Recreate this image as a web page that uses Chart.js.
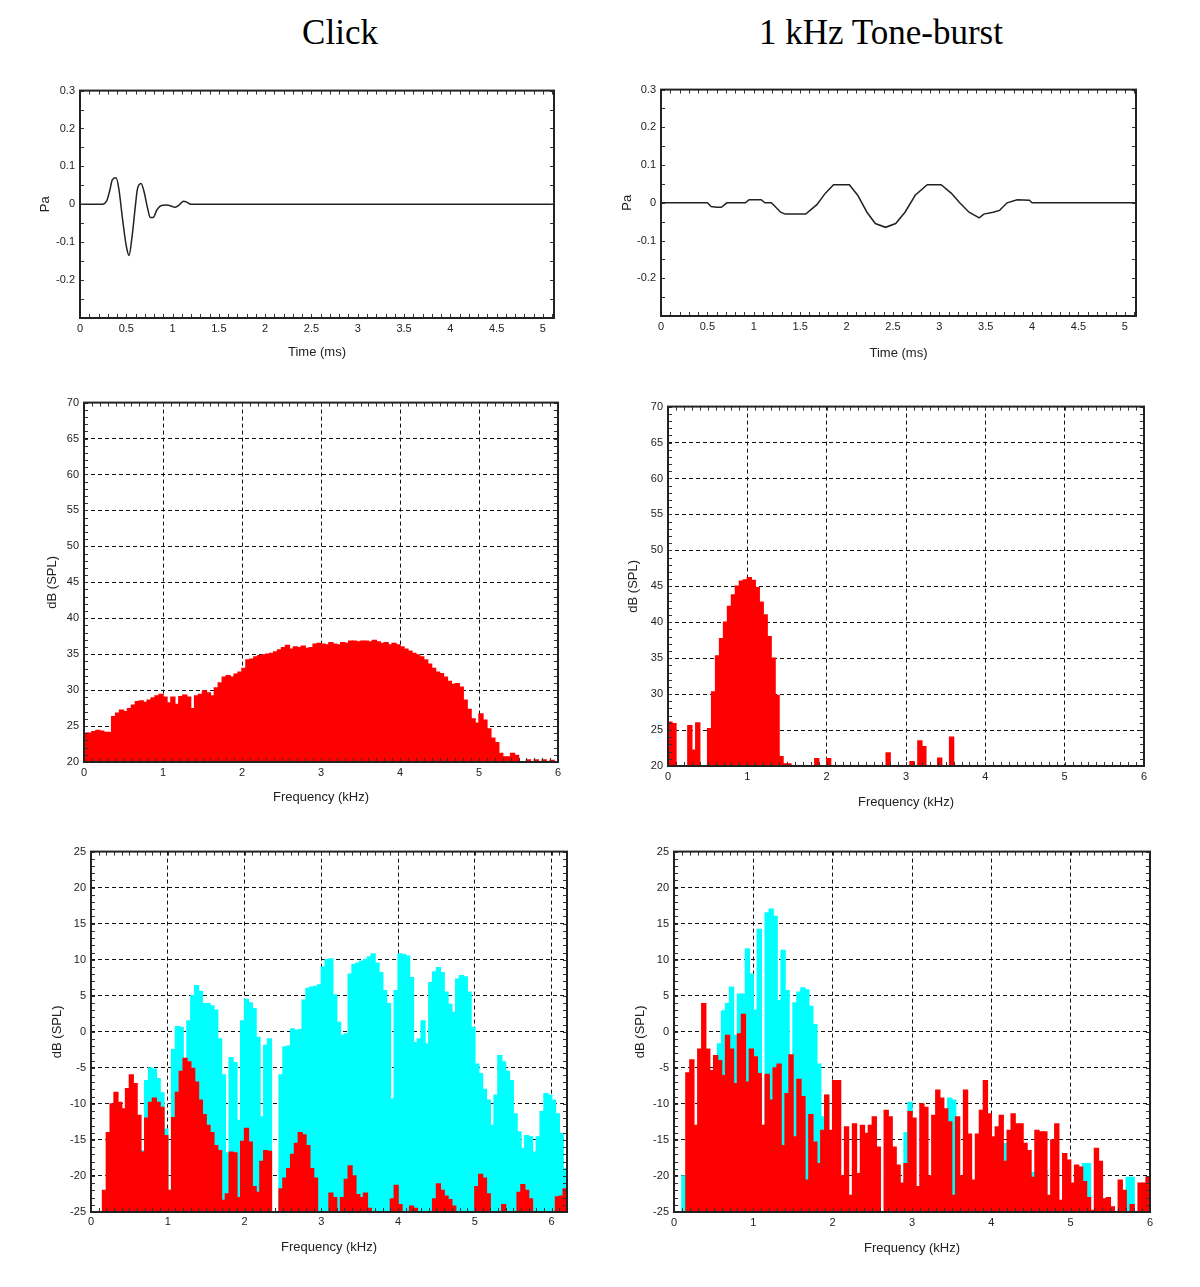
<!DOCTYPE html>
<html>
<head>
<meta charset="utf-8">
<script src="https://cdn.jsdelivr.net/npm/chart.js@4.4.1/dist/chart.umd.min.js"></script>
<style>
  body { margin: 0; background: #fff; width: 1200px; height: 1287px; position: relative; overflow: hidden; }
  .ttl { position: absolute; top: 12px; font-family: "Liberation Serif", "Times New Roman", serif; font-size: 35px; line-height: 42px; transform: translateX(-50%); white-space: nowrap; color: #000; }
  canvas { position: absolute; }
</style>
</head>
<body>
<div class="ttl" style="left:340px">Click</div>
<div class="ttl" style="left:881px">1 kHz Tone-burst</div>
<canvas id="clickWave"></canvas>
<canvas id="toneWave"></canvas>
<canvas id="clickSpec"></canvas>
<canvas id="toneSpec"></canvas>
<canvas id="clickResp"></canvas>
<canvas id="toneResp"></canvas>
<script>
// --- tick labels ---
const timeTicks = [0, 0.5, 1, 1.5, 2, 2.5, 3, 3.5, 4, 4.5, 5];
const paTicks = [-0.2, -0.1, 0, 0.1, 0.2, 0.3];
const freqTicks = [0, 1, 2, 3, 4, 5, 6];
const splTicks = [20, 25, 30, 35, 40, 45, 50, 55, 60, 65, 70];
const respTicks = [-25, -20, -15, -10, -5, 0, 5, 10, 15, 20, 25];

// --- waveforms (time in ms, pressure in Pa) ---
const clickT  = [0, 0.24, 0.29, 0.32, 0.35, 0.39, 0.42, 0.46, 0.5, 0.53, 0.56, 0.6, 0.62, 0.66, 0.69, 0.73, 0.76, 0.79, 0.83, 0.88, 0.93, 0.99, 1.02, 1.07, 1.12, 1.15, 1.2, 5.12];
const clickPa = [0, 0, 0.01, 0.035, 0.065, 0.07, 0.04, -0.04, -0.11, -0.135, -0.09, 0, 0.04, 0.055, 0.035, -0.01, -0.035, -0.035, -0.015, -0.003, -0.002, -0.005, -0.008, -0.002, 0.008, 0.006, 0, 0];

const toneT  = [0, 0.5, 0.54, 0.6, 0.65, 0.71, 0.91, 0.95, 1.08, 1.12, 1.19, 1.29, 1.34, 1.56, 1.68, 1.77, 1.86, 2.03, 2.12, 2.22, 2.31, 2.42, 2.53, 2.63, 2.74, 2.87, 3.02, 3.13, 3.22, 3.32, 3.43, 3.48, 3.58, 3.65, 3.73, 3.84, 3.97, 4.0, 5.12];
const tonePa = [0, 0, -0.01, -0.012, -0.012, 0, 0, 0.008, 0.008, 0, 0, -0.025, -0.03, -0.03, -0.005, 0.025, 0.048, 0.048, 0.02, -0.025, -0.055, -0.065, -0.055, -0.025, 0.02, 0.048, 0.048, 0.025, 0, -0.025, -0.04, -0.03, -0.025, -0.02, 0, 0.008, 0.007, 0, 0];

// --- spectra, 0.05 kHz bins ---
const freq120 = Array.from({length: 120}, (_, i) => +(0.025 + i * 0.05).toFixed(3));
const freq124 = Array.from({length: 124}, (_, i) => +(0.025 + i * 0.05).toFixed(3));

const clickSpl = [
  24.0,24.0,24.2,24.4,24.3,24.1,24.1,26.3,26.8,27.2,
  27.0,27.4,27.9,28.4,28.5,28.3,28.6,28.9,29.2,29.4,
  29.0,28.2,29.0,28.0,29.1,29.3,29.0,27.4,29.2,29.4,
  29.9,29.6,29.2,30.3,31.0,31.8,32.0,31.8,32.2,32.5,
  33.0,34.2,34.3,34.6,34.8,34.9,35.0,35.1,35.3,35.6,
  35.9,36.2,35.7,36.0,35.9,36.1,35.8,35.9,36.4,36.5,
  36.4,36.3,36.6,36.4,36.3,36.6,36.5,36.8,36.8,36.7,
  36.8,36.8,36.7,36.9,36.7,36.5,36.6,36.3,36.5,36.3,
  36.0,35.7,35.4,35.1,34.9,34.6,34.2,33.6,33.0,32.5,
  32.3,31.8,31.2,30.8,30.9,30.4,28.6,27.3,26.0,25.4,
  26.7,25.8,24.6,23.3,22.7,21.2,20.7,20.7,21.2,20.9,
  20.0,20.0,20.3,20.0,20.3,20.0,20.3,20.0,20.2,20.0
];

const toneSpl = [
  26.1,25.9,20,20,20,25.6,22.2,26.0,20,20,
  25.2,30.3,35.3,37.7,40.0,42.2,43.8,45.0,45.7,45.9,
  46.2,45.8,44.8,42.8,41.0,38.0,35.0,29.8,21.3,20.3,
  20.3,20,20,20,20,20,20,21.0,20,20,
  21.0,20,20,20,20,20,20,20,20,20,
  20,20,20,20,20,21.8,20,20,20,20,
  20,20.6,20,23.5,22.7,20,20,20,21.1,20,
  20,24.0,20,20,20,20,20,20,20,20,
  20,20,20,20,20,20,20,20,20,20,
  20,20,20,20,20,20,20,20,20,20,
  20,20,20,20,20,20,20,20,20,20,
  20,20,20,20,20,20,20,20,20,20
];

const clickRed = [
  -25,-25,-25,-22,-14,-10,-8.4,-9.8,-10.7,-7.9,
  -6,-7.2,-11.6,-16.7,-12,-9.8,-9.2,-9.8,-10.5,-14.4,
  -22,-11.9,-8.4,-5.5,-3.7,-4.2,-5.1,-7,-9.5,-11.5,
  -13,-14,-15.8,-16.5,-23.4,-22.5,-16.7,-16.8,-23,-15.2,
  -13.4,-15.3,-21.5,-22.3,-18,-16.5,-16.6,-25,-25,-21.8,
  -20.3,-19,-17,-15.5,-14,-14.3,-15.8,-19,-20.3,-25,
  -25,-25,-22.4,-23,-25,-23,-20.5,-18.6,-20,-22.6,
  -23,-22.4,-24.5,-25,-25,-25,-25,-25,-23.2,-21.3,
  -24,-25,-25,-24.2,-24.5,-25,-25,-25,-25,-23.2,
  -21.1,-22,-22.8,-23.3,-24.2,-25,-25,-25,-25,-25,
  -21.5,-19.8,-20.3,-22.5,-25,-25,-25,-24,-25,-25,
  -25,-22.3,-21.2,-22,-23.2,-25,-25,-25,-25,-25,
  -25,-22.9,-22.8,-21.8
];

const clickCyan = [
  -25,-25,-25,-25,-25,-25,-25,-25,-25,-25,
  -25,-25,-25,-16.5,-6.8,-5,-5.2,-6.5,-8.5,-13.5,
  -22,-2.5,0.7,0.6,-3.7,1.5,5.0,6.4,5.6,3.9,
  3.9,3.6,3.0,-1.0,-6.0,-16.8,-3.6,-4.3,-12.3,1.5,
  4.5,4.0,3.2,-0.8,-11.8,-1.9,-1.0,-25,-25,-6,
  -2.1,-2,0.4,0.2,0.3,4.4,6.0,6.2,6.3,6.5,
  9,10,10.1,5.1,1.3,-0.5,-0.3,8,9.3,9.5,
  9.8,10.0,10.4,10.8,9.5,8.2,5.7,3.9,-9.3,5.7,
  10.8,10.7,10.5,7.5,-1.5,-1,1.5,-1.7,6.8,8.3,
  8.9,8.2,5.5,3.8,2.7,7.3,7.8,7.6,5.5,0.6,
  -4.5,-5.8,-8,-9.5,-13,-8.8,-3.3,-4.2,-5.5,-6.8,
  -11.4,-13.9,-16.2,-14.4,-14.6,-16.7,-14.6,-11.1,-8.6,-8.8,
  -9.5,-11.4,-14.1,-19
];

const toneRed = [
  -25,-25,-25,-5.7,-3.9,-13,-2.4,3.9,-2.4,-5.4,
  -3.3,-4.0,-6.1,-0.5,-2.4,-7.2,-0.3,2.4,-7.0,-2.4,
  -3.5,-5.8,-13.0,-5.9,-9.5,-5.0,-4.5,-15.8,-8.6,-3.2,
  -14.6,-6.6,-9.0,-20.6,-11.5,-15.3,-18.3,-13.7,-8.8,-13.7,
  -6.8,-6.8,-20.0,-13.2,-22.7,-12.8,-19.7,-13.0,-14.1,-13.0,
  -11.8,-16.0,-25,-10.9,-11.8,-16.0,-18.5,-21.0,-18.3,-11.1,
  -12.0,-21.5,-10.0,-10.5,-20.0,-11.6,-8.1,-9.2,-10.7,-12.5,
  -22.7,-11.8,-20.0,-8.1,-14.2,-20.6,-14.2,-10.9,-6.8,-11.4,
  -14.6,-13.2,-11.6,-18.0,-13.7,-11.4,-12.8,-12.8,-15.5,-16.5,
  -20.2,-13.7,-13.9,-13.9,-22.7,-15.0,-12.8,-23.4,-16.9,-17.8,
  -21.0,-18.5,-18.8,-20.8,-23.0,-24.8,-16.2,-18.0,-23.2,-23.0,
  -24.3,-25,-20.6,-22.0,-25,-24.0,-25,-21.0,-21.0,-20.2
];

const toneCyan = [
  -25,-25,-20,-25,-25,-25,-25,-25,-25,-25,
  -3.3,-1.7,2.9,3.9,6.2,-0.5,5.2,5.2,11.5,8.0,
  3.0,14.2,-13.0,16.5,17.0,16.0,4.3,11.3,5.7,-12.0,
  4.0,5.5,6.1,5.8,3.5,1.0,-4.5,-11.8,-8.8,-25,
  -25,-25,-25,-25,-25,-25,-25,-25,-25,-25,
  -25,-25,-25,-25,-25,-25,-25,-25,-14.0,-9.8,
  -25,-25,-25,-25,-25,-25,-25,-25,-25,-9.2,
  -9.5,-25,-25,-25,-25,-25,-25,-25,-25,-25,
  -25,-25,-25,-15.5,-25,-25,-25,-25,-25,-25,
  -19.5,-25,-25,-19.3,-25,-25,-25,-25,-25,-25,
  -25,-25,-25,-18.3,-18.3,-25,-25,-25,-25,-25,
  -25,-25,-25,-25,-20.2,-20.2,-25,-25,-25,-25
];

const tickFont = {family: '"Liberation Sans", Arial, sans-serif', size: 11};
const titleFont = {family: '"Liberation Sans", Arial, sans-serif', size: 13};
const fmt = v => String(Math.round(v * 100) / 100);

// frame + small inward ticks on all four sides
const frameTicks = {
  id: 'frameTicks',
  afterDatasetsDraw(chart, args, o) {
    const {ctx, chartArea: a} = chart;
    const x = chart.scales.x, y = chart.scales.y;
    ctx.save();
    ctx.strokeStyle = '#333';
    ctx.lineWidth = 1;
    ctx.beginPath();
    const nx = Math.round((x.max - x.min) / o.xMinor + 1e-6);
    for (let i = 0; i <= nx; i++) {
      const px = Math.round(x.getPixelForValue(x.min + i * o.xMinor)) + 0.5;
      ctx.moveTo(px, a.top); ctx.lineTo(px, a.top + 4);
      ctx.moveTo(px, a.bottom); ctx.lineTo(px, a.bottom - 4);
    }
    const ny = Math.round((y.max - y.min) / o.yMinor + 1e-6);
    for (let i = 0; i <= ny; i++) {
      const py = Math.round(y.getPixelForValue(y.min + i * o.yMinor)) + 0.5;
      ctx.moveTo(a.left, py); ctx.lineTo(a.left + 4, py);
      ctx.moveTo(a.right, py); ctx.lineTo(a.right - 4, py);
    }
    ctx.stroke();
    ctx.lineWidth = 2;
    ctx.strokeStyle = '#222';
    ctx.strokeRect(a.left, a.top, a.width, a.height);
    ctx.restore();
  }
};

function makePanel(id, box, o) {
  const cLeft = box.yt - 10, cTop = box.t - 10, cBottom = box.xt + 10;
  const yAxisW = box.l - cLeft;
  const xAxisH = cBottom - box.b;
  const cv = document.getElementById(id);
  cv.width = box.r + 14 - cLeft;
  cv.height = cBottom - cTop;
  cv.style.left = cLeft + 'px';
  cv.style.top = cTop + 'px';
  new Chart(cv, {
    type: o.type,
    data: {datasets: o.datasets},
    options: {
      responsive: false,
      animation: false,
      events: [],
      layout: {padding: {top: 10, right: 14, left: 0, bottom: 0}},
      plugins: {
        legend: {display: false},
        tooltip: {enabled: false},
        frameTicks: {xMinor: o.xMinor, yMinor: o.yMinor}
      },
      scales: {
        x: {
          type: 'linear', min: o.xMin, max: o.xMax, offset: false,
          afterFit: s => { s.height = xAxisH; },
          afterBuildTicks: s => { s.ticks = o.xTicks.map(v => ({value: v})); },
          grid: {display: o.grid, offset: false, drawTicks: false, color: '#111', lineWidth: 1},
          border: {display: false, dash: [4, 3]},
          ticks: {autoSkip: false, maxRotation: 0, padding: box.xl - box.b - 6.6, font: tickFont, color: '#222', callback: fmt},
          title: {display: true, text: o.xTitle, font: titleFont, color: '#222', padding: {top: 0, bottom: 2.2}}
        },
        y: {
          type: 'linear', min: o.yMin, max: o.yMax,
          afterFit: s => { s.width = yAxisW; },
          afterBuildTicks: s => { s.ticks = o.yTicks.map(v => ({value: v})); },
          grid: {display: o.grid, drawTicks: false, color: '#111', lineWidth: 1},
          border: {display: false, dash: [4, 3]},
          ticks: {padding: 5, font: tickFont, color: '#222', callback: fmt},
          title: {display: true, text: o.yTitle, font: titleFont, color: '#222', padding: {top: 2.2, bottom: 0}}
        }
      }
    },
    plugins: [frameTicks]
  });
}

function lineSet(t, p, smooth) {
  return {
    data: t.map((v, i) => ({x: v, y: p[i]})),
    borderColor: '#222', borderWidth: 1.5, pointRadius: 0,
    cubicInterpolationMode: smooth ? 'monotone' : 'default',
    tension: smooth ? 0.4 : 0, fill: false
  };
}

function barSet(freqs, vals, base, color) {
  return {
    data: freqs.map((f, i) => ({x: f, y: [base, vals[i]]})),
    backgroundColor: color, borderWidth: 0, inflateAmount: 0.7,
    barPercentage: 1, categoryPercentage: 1, grouped: false
  };
}

makePanel('clickWave', {l: 80, t: 89, r: 554, b: 318, yt: 45, xl: 329, xt: 352}, {
  type: 'line', datasets: [lineSet(clickT, clickPa, true)],
  xMin: 0, xMax: 5.12, xTicks: timeTicks, xMinor: 0.1, xTitle: 'Time (ms)',
  yMin: -0.3, yMax: 0.3, yTicks: paTicks, yMinor: 0.05, yTitle: 'Pa', grid: false
});

makePanel('toneWave', {l: 661, t: 88, r: 1136, b: 316, yt: 627, xl: 327, xt: 353}, {
  type: 'line', datasets: [lineSet(toneT, tonePa, false)],
  xMin: 0, xMax: 5.12, xTicks: timeTicks, xMinor: 0.1, xTitle: 'Time (ms)',
  yMin: -0.3, yMax: 0.3, yTicks: paTicks, yMinor: 0.05, yTitle: 'Pa', grid: false
});

makePanel('clickSpec', {l: 84, t: 401, r: 558, b: 762, yt: 52, xl: 773, xt: 797}, {
  type: 'bar', datasets: [barSet(freq120, clickSpl, 20, '#ff0000')],
  xMin: 0, xMax: 6, xTicks: freqTicks, xMinor: 0.1, xTitle: 'Frequency (kHz)',
  yMin: 20, yMax: 70, yTicks: splTicks, yMinor: 1, yTitle: 'dB (SPL)', grid: true
});

makePanel('toneSpec', {l: 668, t: 405, r: 1144, b: 766, yt: 633, xl: 777, xt: 802}, {
  type: 'bar', datasets: [barSet(freq120, toneSpl, 20, '#ff0000')],
  xMin: 0, xMax: 6, xTicks: freqTicks, xMinor: 0.1, xTitle: 'Frequency (kHz)',
  yMin: 20, yMax: 70, yTicks: splTicks, yMinor: 1, yTitle: 'dB (SPL)', grid: true
});

makePanel('clickResp', {l: 91, t: 850, r: 567, b: 1212, yt: 57, xl: 1222, xt: 1247}, {
  type: 'bar', datasets: [barSet(freq124, clickRed, -25, '#ff0000'), barSet(freq124, clickCyan, -25, '#00ffff')],
  xMin: 0, xMax: 6.2, xTicks: freqTicks, xMinor: 0.1, xTitle: 'Frequency (kHz)',
  yMin: -25, yMax: 25, yTicks: respTicks, yMinor: 1, yTitle: 'dB (SPL)', grid: true
});

makePanel('toneResp', {l: 674, t: 850, r: 1150, b: 1212, yt: 640, xl: 1223, xt: 1248}, {
  type: 'bar', datasets: [barSet(freq120, toneRed, -25, '#ff0000'), barSet(freq120, toneCyan, -25, '#00ffff')],
  xMin: 0, xMax: 6, xTicks: freqTicks, xMinor: 0.1, xTitle: 'Frequency (kHz)',
  yMin: -25, yMax: 25, yTicks: respTicks, yMinor: 1, yTitle: 'dB (SPL)', grid: true
});
</script>
</body>
</html>
